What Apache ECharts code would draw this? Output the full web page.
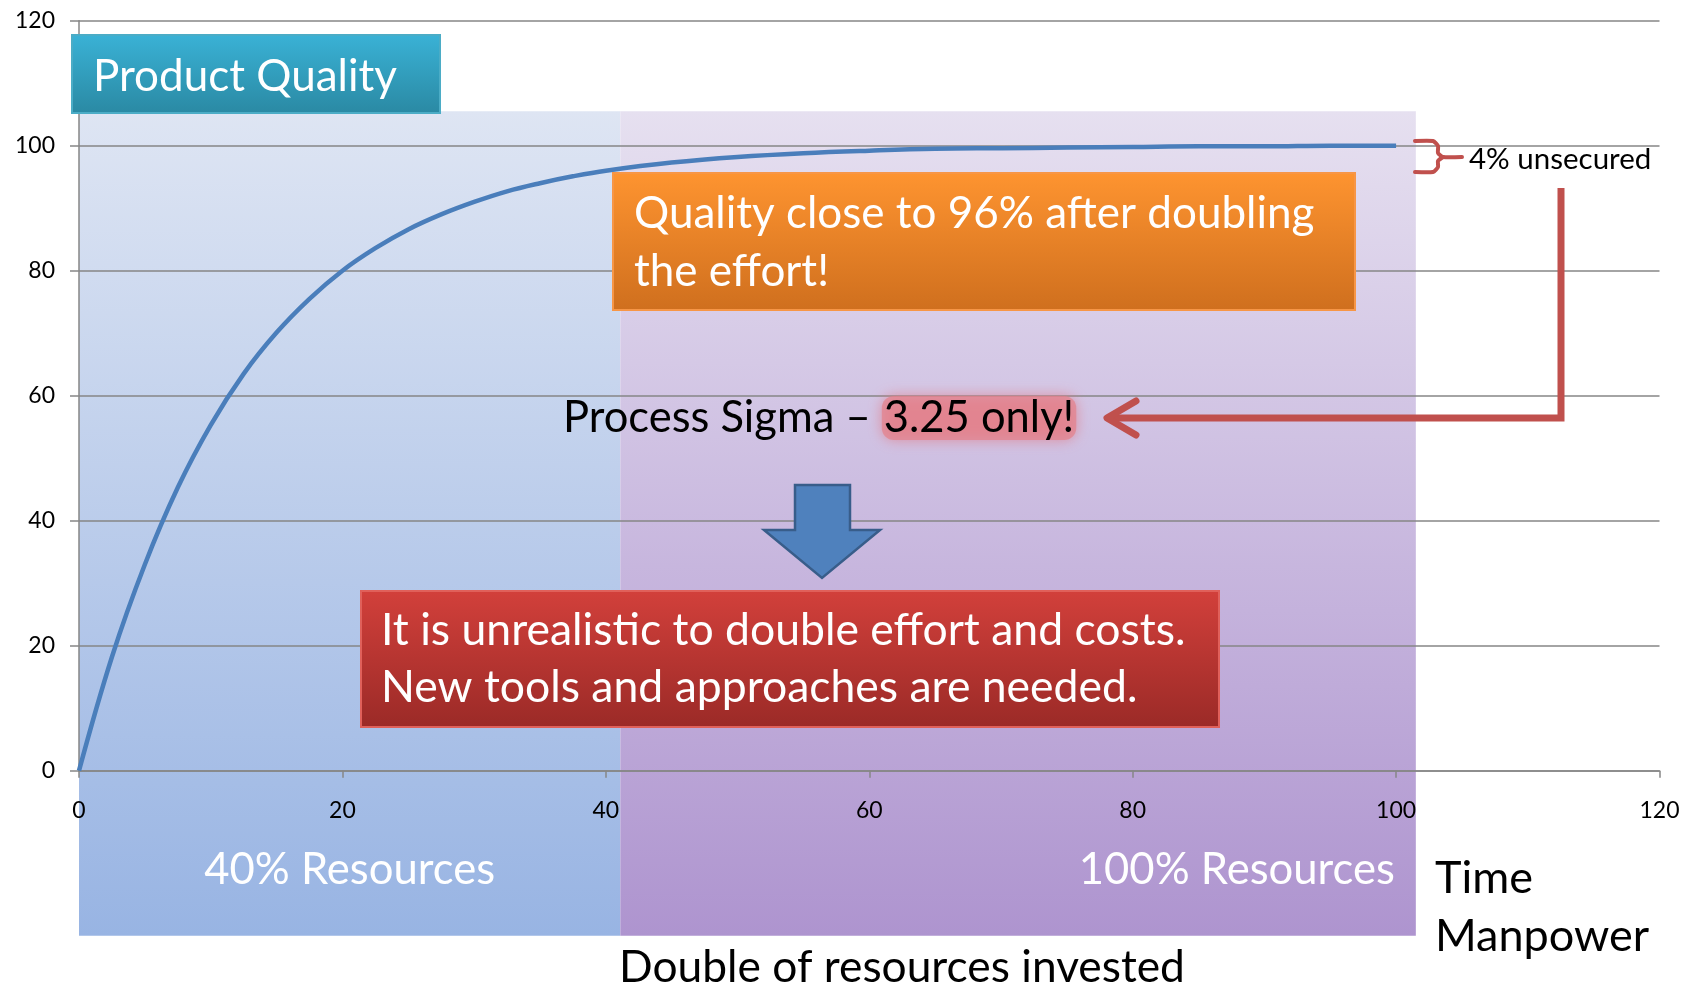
<!DOCTYPE html>
<html>
<head>
<meta charset="utf-8">
<script src="https://cdn.jsdelivr.net/npm/echarts@6/dist/echarts.min.js"></script>
<style>
html, body { margin: 0; padding: 0; background: #fff; }
#chart-0 { width: 1692px; height: 990px; }
</style>
</head>
<body>
<div id="chart-0"></div>
<script>
// curve
var qualityX = [0, 2.5, 5, 7.5, 10, 12.5, 15, 17.5, 20, 22.5, 25, 27.5, 30, 32.5, 35, 37.5, 40,
    45, 50, 55, 60, 65, 70, 75, 80, 85, 90, 95, 100];
var qualityY = [0, 18.2, 33, 45.3, 55.3, 63.5, 70.1, 75.5, 80, 83.6, 86.6, 89, 91, 92.7, 94, 95.1, 96,
    97.3, 98.2, 98.8, 99.2, 99.5, 99.6, 99.7, 99.8, 99.9, 99.9, 100, 100];

// shaded zones (x from / to, y low / high in axis units)
var zoneNames = ['40% Resources', '100% Resources'];
var zoneFrom = [0, 41.1];
var zoneTo = [41.1, 101.5];
var zoneLow = [-26.4, -26.4];
var zoneHigh = [105.5, 105.5];
var zoneTop = ['#dee5f3', '#e6e0f0'];
var zoneBottom = ['#98b4e3', '#ae94cf'];

var font = 'Lato';

var chart = echarts.init(document.getElementById('chart-0'));

var curveData = [];
for (var i = 0; i < qualityX.length; i++) {
    curveData.push([qualityX[i], qualityY[i]]);
}
var zoneData = [];
for (var j = 0; j < zoneNames.length; j++) {
    zoneData.push([zoneFrom[j], zoneTo[j], zoneLow[j], zoneHigh[j]]);
}

function renderZone(params, api) {
    var k = params.dataIndex;
    var p0 = api.coord([api.value(0), api.value(3)]);
    var p1 = api.coord([api.value(1), api.value(2)]);
    var label = k === 0
        ? { x: (p0[0] + p1[0]) / 2, align: 'center' }
        : { x: p1[0] - 21, align: 'right' };
    return {
        type: 'group',
        children: [{
            type: 'rect',
            shape: { x: p0[0], y: p0[1], width: p1[0] - p0[0], height: p1[1] - p0[1] },
            style: {
                fill: new echarts.graphic.LinearGradient(0, 0, 0, 1, [
                    { offset: 0, color: zoneTop[k] },
                    { offset: 1, color: zoneBottom[k] }
                ])
            }
        }, {
            type: 'text',
            style: {
                text: zoneNames[k],
                x: label.x,
                y: p1[1] - 66,
                fill: '#fff',
                font: '43.6px ' + font,
                textAlign: label.align,
                textVerticalAlign: 'middle'
            }
        }]
    };
}

function box(x, y, w, h, c1, c2, stroke) {
    return {
        type: 'rect',
        shape: { x: x, y: y, width: w, height: h },
        style: {
            fill: new echarts.graphic.LinearGradient(0, 0, 0, 1, [
                { offset: 0, color: c1 },
                { offset: 1, color: c2 }
            ]),
            stroke: stroke,
            lineWidth: 2
        },
        z: 10
    };
}

function label(text, x, y, size, color, align) {
    return {
        type: 'text',
        style: {
            text: text,
            x: x,
            y: y,
            fill: color,
            font: size + 'px ' + font,
            textAlign: align || 'left',
            textVerticalAlign: 'middle'
        },
        z: 11
    };
}

var option = {
    animation: false,
    grid: {
        left: 79,
        right: 32.5,
        top: 20.7,
        bottom: 219.3
    },
    xAxis: {
        type: 'value',
        min: 0,
        max: 120,
        interval: 20,
        axisLine: { lineStyle: { color: '#868686', width: 1.5 } },
        axisTick: { show: true, length: 7, lineStyle: { color: '#868686', width: 1.5 } },
        axisLabel: { color: '#000', fontFamily: font, fontSize: 23, margin: 28 },
        splitLine: { show: false }
    },
    yAxis: {
        type: 'value',
        min: 0,
        max: 120,
        interval: 20,
        axisLine: { show: true, lineStyle: { color: '#868686', width: 1.5 } },
        axisTick: { show: true, length: 9, lineStyle: { color: '#868686', width: 1.5 } },
        axisLabel: { color: '#000', fontFamily: font, fontSize: 23, margin: 24 },
        splitLine: { show: true, lineStyle: { color: '#868686', width: 1.5 } }
    },
    series: [{
        type: 'custom',
        z: -1,
        clip: false,
        silent: true,
        renderItem: renderZone,
        encode: { x: [0, 1], y: [2, 3] },
        data: zoneData
    }, {
        name: 'Product Quality',
        type: 'line',
        smooth: 0.4,
        showSymbol: false,
        lineStyle: { color: '#4a7ebb', width: 4.5 },
        data: curveData
    }],
    graphic: [
        box(72, 35, 368, 78, '#3ab2d6', '#2a89a3', '#4bacc6'),
        label('Product Quality', 93, 77, 44, '#fff'),

        box(613, 173, 742, 137, '#fe9430', '#cf6f1e', '#f79646'),
        label('Quality close to 96% after doubling', 634, 214, 44, '#fff'),
        label('the effort!', 634, 272, 44, '#fff'),

        {
            type: 'text',
            style: {
                text: '{n|Process Sigma – }{h|3.25 only!}',
                x: 563,
                y: 418,
                textVerticalAlign: 'middle',
                rich: {
                    n: { fontFamily: font, fontSize: 43.5, color: '#000' },
                    h: {
                        fontFamily: font, fontSize: 43.5, color: '#000',
                        backgroundColor: 'rgba(228,128,138,0.7)',
                        borderRadius: 12,
                        padding: [0, 2],
                        shadowBlur: 14,
                        shadowColor: 'rgba(226,118,128,1)'
                    }
                }
            },
            z: 11
        },

        // red connector from the "4% unsecured" note to the sigma line
        {
            type: 'polyline',
            shape: { points: [[1561, 188], [1561, 418], [1110, 418]] },
            style: { stroke: '#c0504d', lineWidth: 7, fill: null },
            z: 10
        },
        {
            type: 'polyline',
            shape: { points: [[1136, 401], [1107, 418], [1136, 435]] },
            style: { stroke: '#c0504d', lineWidth: 7, fill: null, lineCap: 'round', lineJoin: 'round' },
            z: 10
        },

        // brace
        {
            type: 'polyline',
            shape: { points: [[1415, 141], [1433, 141], [1438, 146], [1438, 153], [1443, 157], [1462, 157]], smooth: 0.2 },
            style: { stroke: '#c0504d', lineWidth: 4, fill: null, lineCap: 'round' },
            z: 10
        },
        {
            type: 'polyline',
            shape: { points: [[1443, 157], [1438, 161], [1438, 167], [1433, 172], [1415, 172]], smooth: 0.2 },
            style: { stroke: '#c0504d', lineWidth: 4, fill: null, lineCap: 'round' },
            z: 10
        },
        label('4% unsecured', 1469, 159, 29.5, '#000'),

        // down arrow
        {
            type: 'polygon',
            shape: { points: [[795, 485], [850, 485], [850, 530], [880, 530], [822, 578], [764, 530], [795, 530]] },
            style: { fill: '#4f81bd', stroke: '#385d8a', lineWidth: 2.5 },
            z: 10
        },

        box(361, 591, 858, 136, '#d2403b', '#9b2a27', '#e0605a'),
        label('It is unrealistic to double effort and costs.', 381, 631, 44.5, '#fff'),
        label('New tools and approaches are needed.', 381, 688, 44.5, '#fff'),

        label('Time', 1435, 878, 45, '#000'),
        label('Manpower', 1435, 936, 45, '#000'),
        label('Double of resources invested', 902, 968, 44.3, '#000', 'center')
    ]
};

chart.setOption(option);
</script>
</body>
</html>
